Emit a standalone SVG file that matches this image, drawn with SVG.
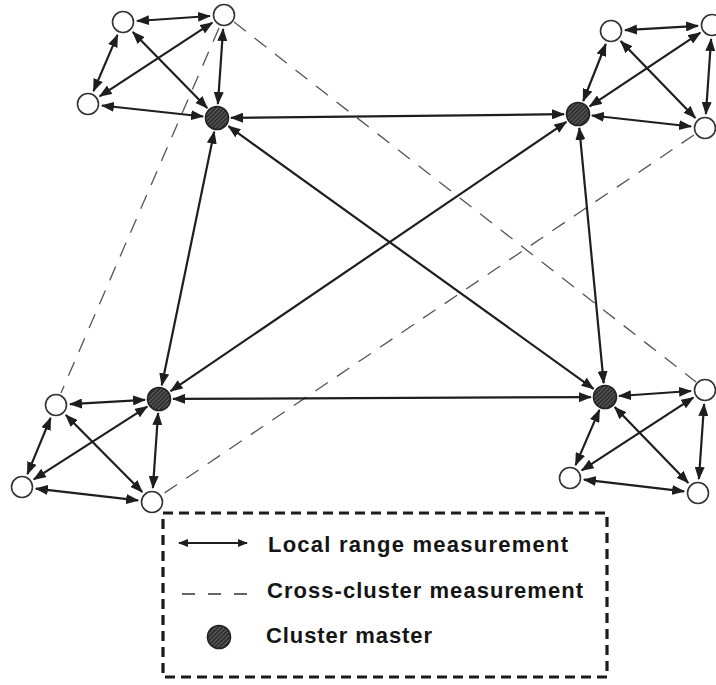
<svg xmlns="http://www.w3.org/2000/svg" width="716" height="685" viewBox="0 0 716 685">
<style>
.edge{stroke:#1e1e1e;stroke-width:2.2;fill:none;marker-start:url(#ah);marker-end:url(#ah)}
.cross{stroke:#555;stroke-width:1.3;fill:none;stroke-dasharray:15 11}
.node{fill:#fff;stroke:#333;stroke-width:1.6}
.master{fill:url(#hatch);stroke:#222;stroke-width:1.6}
.lbl{font-family:"Liberation Sans",Arial,sans-serif;font-size:22px;font-weight:bold;fill:#151515}
</style>
<defs>
<marker id="ah" viewBox="0 0 13 10" refX="12" refY="5" markerWidth="13" markerHeight="10" markerUnits="userSpaceOnUse" orient="auto-start-reverse">
<path d="M0,0 L13,5 L0,10 z" fill="#1e1e1e"/>
</marker>
<marker id="ahs" viewBox="0 0 10 8" refX="9" refY="4" markerWidth="10" markerHeight="8" markerUnits="userSpaceOnUse" orient="auto-start-reverse">
<path d="M0,0 L10,4 L0,8 z" fill="#1e1e1e"/>
</marker>
<pattern id="hatch" width="3" height="3" patternUnits="userSpaceOnUse" patternTransform="rotate(45)">
<rect width="3" height="3" fill="#5e5e5e"/>
<rect width="1.6" height="3" fill="#262626"/>
</pattern>
</defs>
<rect width="716" height="685" fill="#fff"/>
<g id="connectors">
<g id="cross-cluster">
<line class="cross" x1="219" y1="28" x2="61" y2="393"/>
<line class="cross" x1="234" y1="22" x2="696" y2="382"/>
<line class="cross" x1="694" y1="135" x2="163" y2="494"/>
</g>
<g id="local">
<line class="edge" x1="137" y1="21" x2="210" y2="16"/>
<line class="edge" x1="117.5" y1="34.9" x2="93.5" y2="91.1"/>
<line class="edge" x1="132.8" y1="32" x2="207.2" y2="108"/>
<line class="edge" x1="212.3" y1="22.7" x2="99.7" y2="96.3"/>
<line class="edge" x1="223.1" y1="29" x2="217.9" y2="104"/>
<line class="edge" x1="101.9" y1="105.5" x2="203.1" y2="116.5"/>
<line class="edge" x1="625" y1="30.2" x2="698" y2="25.8"/>
<line class="edge" x1="605.8" y1="44" x2="583.2" y2="101"/>
<line class="edge" x1="620.7" y1="41.1" x2="695.3" y2="117.9"/>
<line class="edge" x1="700.3" y1="32.7" x2="589.7" y2="106.3"/>
<line class="edge" x1="711.1" y1="39" x2="705.9" y2="114"/>
<line class="edge" x1="591.9" y1="115.5" x2="691.1" y2="126.5"/>
<line class="edge" x1="70" y1="404.2" x2="145" y2="399.8"/>
<line class="edge" x1="50.6" y1="417.9" x2="27.4" y2="474.1"/>
<line class="edge" x1="65.8" y1="415" x2="142.2" y2="492"/>
<line class="edge" x1="147.2" y1="406.6" x2="33.8" y2="479.4"/>
<line class="edge" x1="158.1" y1="413" x2="152.9" y2="488"/>
<line class="edge" x1="35.9" y1="488.6" x2="138.1" y2="500.4"/>
<line class="edge" x1="619" y1="396" x2="691" y2="391"/>
<line class="edge" x1="599.4" y1="409.9" x2="575.6" y2="465.1"/>
<line class="edge" x1="614.7" y1="407.1" x2="688.3" y2="482.9"/>
<line class="edge" x1="693.3" y1="397.6" x2="581.7" y2="470.4"/>
<line class="edge" x1="704.1" y1="404" x2="698.9" y2="479"/>
<line class="edge" x1="583.9" y1="479.6" x2="684.1" y2="491.4"/>
</g>
<g id="master-links">
<line class="edge" x1="231" y1="117.8" x2="564" y2="114.2"/>
<line class="edge" x1="214.2" y1="131.7" x2="161.8" y2="385.3"/>
<line class="edge" x1="228.4" y1="126.2" x2="593.6" y2="388.8"/>
<line class="edge" x1="566.4" y1="121.9" x2="170.6" y2="391.1"/>
<line class="edge" x1="579.3" y1="127.9" x2="603.7" y2="383.1"/>
<line class="edge" x1="173" y1="398.9" x2="591" y2="397.1"/>
</g>
</g>
<g id="A1"><circle class="node" cx="123" cy="22" r="10.5"/></g>
<g id="A2"><circle class="node" cx="224" cy="15" r="10.5"/></g>
<g id="A3"><circle class="node" cx="88" cy="104" r="10.5"/></g>
<g id="AM"><circle class="master" cx="217" cy="118" r="11.5"/></g>
<g id="B1"><circle class="node" cx="611" cy="31" r="10.5"/></g>
<g id="B2"><circle class="node" cx="712" cy="25" r="10.5"/></g>
<g id="B3"><circle class="node" cx="705" cy="128" r="10.5"/></g>
<g id="BM"><circle class="master" cx="578" cy="114" r="11.5"/></g>
<g id="C1"><circle class="node" cx="56" cy="405" r="10.5"/></g>
<g id="C2"><circle class="node" cx="22" cy="487" r="10.5"/></g>
<g id="C3"><circle class="node" cx="152" cy="502" r="10.5"/></g>
<g id="CM"><circle class="master" cx="159" cy="399" r="11.5"/></g>
<g id="D1"><circle class="node" cx="705" cy="390" r="10.5"/></g>
<g id="D2"><circle class="node" cx="570" cy="478" r="10.5"/></g>
<g id="D3"><circle class="node" cx="698" cy="493" r="10.5"/></g>
<g id="DM"><circle class="master" cx="605" cy="397" r="11.5"/></g>
<g id="legend">
<rect x="163" y="513" width="444" height="164" fill="none" stroke="#1a1a1a" stroke-width="3.2" stroke-dasharray="10 6"/>
<line x1="179" y1="543" x2="247" y2="543" stroke="#1e1e1e" stroke-width="1.8" marker-start="url(#ahs)" marker-end="url(#ahs)"/>
<line x1="182" y1="594" x2="247" y2="594" stroke="#333" stroke-width="1.5" stroke-dasharray="13 13"/>
<circle class="master" cx="219" cy="637" r="11.5"/>
<text class="lbl" x="268" y="552" textLength="300" lengthAdjust="spacing">Local range measurement</text>
<text class="lbl" x="267" y="598" textLength="316" lengthAdjust="spacing">Cross-cluster measurement</text>
<text class="lbl" x="266" y="643" textLength="166" lengthAdjust="spacing">Cluster master</text>
</g>
</svg>
